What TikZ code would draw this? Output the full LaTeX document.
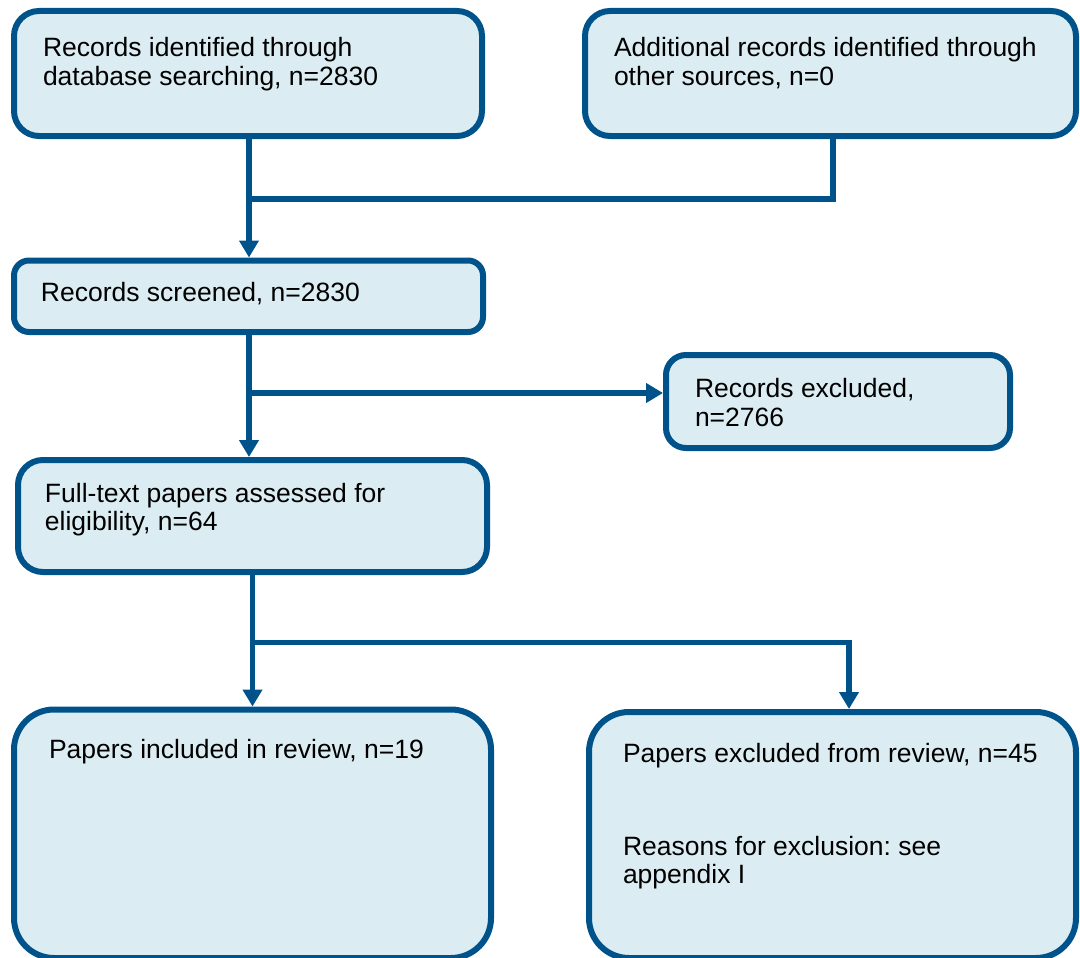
\documentclass[tikz,border=0pt]{standalone}
\usepackage{fontspec}
\setmainfont{Liberation Sans}
\usetikzlibrary{arrows.meta,calc}
\definecolor{bord}{RGB}{0,83,138}
\definecolor{fillb}{RGB}{219,237,243}
\frenchspacing
\begin{document}
\begin{tikzpicture}[x=1pt,y=-1pt,
 box/.style={draw=bord,fill=fillb,line width=6pt,inner sep=0pt,outer sep=0pt},
 conn/.style={draw=bord,line width=5.5pt,-{Triangle[width=19pt,length=17pt]},shorten >=3pt},
 plain/.style={draw=bord,line width=5.5pt},
 txt/.style={anchor=base west,inner sep=0pt,outer sep=0pt,font=\fontsize{26.5}{30}\selectfont}]
\useasboundingbox (0,0) rectangle (1080,958);

% boxes
\node[box,minimum width=468pt,minimum height=125pt,rounded corners=25pt] (a) at (248,73.5) {};
\node[box,minimum width=491pt,minimum height=125pt,rounded corners=25pt] (b) at (830.5,73.5) {};
\node[box,minimum width=469pt,minimum height=71.5pt,rounded corners=15pt] (c) at (248.5,296.25) {};
\node[box,minimum width=344pt,minimum height=93pt,rounded corners=20pt] (d) at (838,401.5) {};
\node[box,minimum width=469pt,minimum height=112pt,rounded corners=25pt] (e) at (252.5,516) {};
\node[box,minimum width=477pt,minimum height=248.5pt,rounded corners=40pt] (f) at (252.5,833.75) {};
\node[box,minimum width=487pt,minimum height=246pt,rounded corners=40pt] (g) at (832.5,835) {};

% texts
\node[txt] (a1) at (43,56.5) {Records identified through};
\node[txt] (a2) at (43,85) {database searching, n=2830};
\node[txt] (b1) at (614,56.5) {Additional records identified through};
\node[txt] (b2) at (614,85) {other sources, n=0};
\node[txt] (c1) at (41,301.5) {Records screened, n=2830};
\node[txt] (d1) at (695,397) {Records excluded,};
\node[txt] (d2) at (695,426) {n=2766};
\node[txt] (e1) at (45,502) {Full-text papers assessed for};
\node[txt] (e2) at (45,530.5) {eligibility, n=64};
\node[txt] (f1) at (49,758) {Papers included in review, n=19};
\node[txt] (g1) at (623,762) {Papers excluded from review, n=45};
\node[txt] (g2) at (623,855) {Reasons for exclusion: see};
\node[txt] (g3) at (623,883) {appendix I};

% junction coordinates
\coordinate (j1) at (249,199);
\coordinate (j2) at (249,393);
\coordinate (j3) at (252.5,642.5);
\coordinate (k3) at (849,642.5);

% connectors
\draw[conn] (a.south -| j1) -- (c.north -| j1);
\draw[plain] ([xshift=2.5pt]b.south) |- (j1);
\draw[conn] (c.south -| j2) -- (e.north -| j2);
\draw[conn] (j2) -- (d.west |- j2);
\draw[conn] (e.south) -- (f.north);
\draw[conn] (j3) -- (k3) -- (g.north -| k3);
\end{tikzpicture}
\end{document}
